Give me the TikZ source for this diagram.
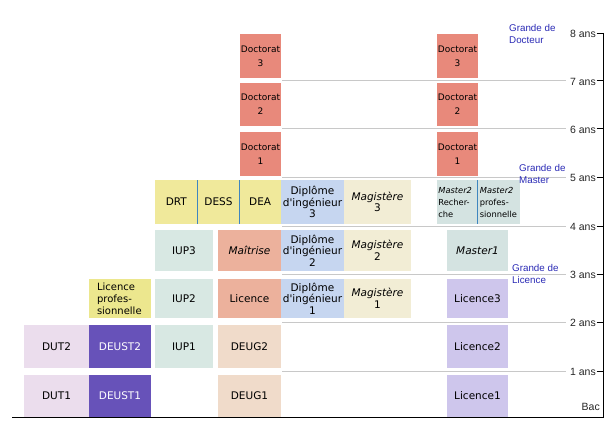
\documentclass[tikz,border=0pt]{standalone}
\usepackage{fontspec}
\setmainfont{DejaVu Sans}
\newfontfamily\axisfont{Liberation Sans}
\newfontfamily\boxfont{DejaVu Sans}
\definecolor{dutc}{HTML}{EBDDED}
\definecolor{deustc}{HTML}{6752B9}
\definecolor{lprofc}{HTML}{ECE78E}
\definecolor{iupc}{HTML}{D8E8E3}
\definecolor{deugc}{HTML}{F0DBCA}
\definecolor{licc}{HTML}{ECB19C}
\definecolor{drtc}{HTML}{F0E99B}
\definecolor{dipc}{HTML}{C6D6F0}
\definecolor{magc}{HTML}{F2EDD5}
\definecolor{lic3c}{HTML}{CEC6EC}
\definecolor{m1c}{HTML}{D4E3E1}
\definecolor{docc}{HTML}{E8897B}
\definecolor{divc}{HTML}{3F86BF}
\definecolor{gridc}{HTML}{C8C8C8}
\definecolor{grandec}{HTML}{2A2AB5}
\newcommand{\mkcell}[7]{%
  \node[box,#6,minimum width={(#4-#2)*1pt},minimum height={(#5-#3)*1pt}] (#1) at ({(#2+#4)/2},{(#3+#5)/2}) {#7};}
\begin{document}
\begin{tikzpicture}[x=1pt,y=-1pt,
  box/.style={rectangle,inner sep=0pt,outer sep=0pt,align=center,font=\boxfont\fontsize{10.5}{11.5}\selectfont},
  docbox/.style={box,fill=docc,font=\boxfont\fontsize{9}{14}\selectfont},
  m2box/.style={box,fill=m1c,align=left,text width=38pt,inner xsep=1pt,font=\boxfont\fontsize{8.3}{12}\selectfont},
  lpbox/.style={box,fill=lprofc,align=left,text width=46pt,inner xsep=8pt,font=\boxfont\fontsize{10}{12}\selectfont},
  divline/.style={draw=divc,line width=0.8pt},
  gridline/.style={draw=gridc,line width=1pt},
  axisline/.style={draw=black,line width=1pt},
  yearlabel/.style={anchor=east,inner sep=0pt,font=\axisfont\fontsize{10.5}{12}\selectfont,text=black!85},
  grande/.style={anchor=north west,inner sep=0pt,align=left,text=grandec,font=\axisfont\fontsize{9.8}{12}\selectfont}
]
\useasboundingbox (0,0) rectangle (610,428);
% grid lines
\foreach \yy in {80.5,128.5,177,226,274,322,371}{
  \draw[gridline] (282,\yy) -- (566,\yy);
}
% row 1
\mkcell{dut1}{24}{375}{89}{417}{fill=dutc}{DUT1}
\mkcell{deust1}{89}{375}{151}{417}{fill=deustc,text=white}{DEUST1}
\mkcell{deug1}{218}{375}{281}{417}{fill=deugc}{DEUG1}
\mkcell{lic1}{447}{375}{508}{417}{fill=lic3c}{Licence1}
% row 2
\mkcell{dut2}{24}{325}{89}{368}{fill=dutc}{DUT2}
\mkcell{deust2}{89}{325}{151}{368}{fill=deustc,text=white}{DEUST2}
\mkcell{iup1}{155}{325}{213}{368}{fill=iupc}{IUP1}
\mkcell{deug2}{218}{325}{281}{368}{fill=deugc}{DEUG2}
\mkcell{lic2}{447}{325}{508}{368}{fill=lic3c}{Licence2}
% row 3
\mkcell{lprof}{89}{279}{151}{318}{lpbox}{Licence\\profes-\\sionnelle}
\mkcell{iup2}{155}{279}{213}{318}{fill=iupc}{IUP2}
\mkcell{licence}{218}{279}{281}{318}{fill=licc}{Licence}
\mkcell{dip1}{281}{279}{344}{318}{fill=dipc}{Diplôme\\d'ingénieur\\1}
\mkcell{mag1}{344}{279}{411}{318}{fill=magc}{\textit{Magistère}\\1}
\mkcell{lic3}{447}{279}{508}{318}{fill=lic3c}{Licence3}
% row 4
\mkcell{iup3}{155}{230}{213}{271}{fill=iupc}{IUP3}
\mkcell{maitrise}{218}{230}{281}{271}{fill=licc}{\textit{Maîtrise}}
\mkcell{dip2}{281}{230}{344}{271}{fill=dipc}{Diplôme\\d'ingénieur\\2}
\mkcell{mag2}{344}{230}{411}{271}{fill=magc}{\textit{Magistère}\\2}
\mkcell{m1}{447}{230}{508}{271}{fill=m1c}{\textit{Master1}}
% row 5
\mkcell{drt}{155}{180}{197.7}{224}{fill=drtc}{DRT}
\mkcell{dess}{197.7}{180}{239.3}{224}{fill=drtc}{DESS}
\mkcell{dea}{239.3}{180}{281}{224}{fill=drtc}{DEA}
\mkcell{dip3}{281}{180}{344}{224}{fill=dipc}{Diplôme\\d'ingénieur\\3}
\mkcell{mag3}{344}{180}{411}{224}{fill=magc}{\textit{Magistère}\\3}
\mkcell{m2r}{437}{180}{477.7}{224}{m2box}{\textit{Master2}\\Recher-\\che}
\mkcell{m2p}{477.7}{180}{520}{224}{m2box}{\textit{Master2}\\profes-\\sionnelle}
\draw[divline] (drt.north east) -- (drt.south east);
\draw[divline] (dess.north east) -- (dess.south east);
\draw[divline] (m2r.north east) -- (m2r.south east);
% doctorat
\mkcell{docA1}{240}{132}{281}{176}{docbox}{Doctorat\\1}
\mkcell{docA2}{240}{83}{281}{126}{docbox}{Doctorat\\2}
\mkcell{docA3}{240}{34}{281}{78}{docbox}{Doctorat\\3}
\mkcell{docB1}{437}{132}{478}{176}{docbox}{Doctorat\\1}
\mkcell{docB2}{437}{83}{478}{126}{docbox}{Doctorat\\2}
\mkcell{docB3}{437}{34}{478}{78}{docbox}{Doctorat\\3}
% grande labels
\node[grande] (gdoc) at (509,24) {Grande de\\Docteur};
\node[grande] (gmas) at (519,164) {Grande de\\Master};
\node[grande] (glic) at (512,264) {Grande de\\Licence};
% axis
\coordinate (axtop) at (603,33);
\coordinate (axbot) at (603,417);
\coordinate (axleft) at (12,417);
\draw[axisline] (axtop) -- (axbot) -- (axleft);
\foreach \k/\yy in {8/33,7/80.5,6/128.5,5/177,4/226,3/274,2/322,1/371}{
  \node[yearlabel] (y\k) at (596,\yy+1) {\k{} ans};
  \draw[black,line width=0.8pt] (596.5,\yy) -- (603,\yy);
}
\node[yearlabel] (bac) at (600,407) {Bac};
\end{tikzpicture}
\end{document}
